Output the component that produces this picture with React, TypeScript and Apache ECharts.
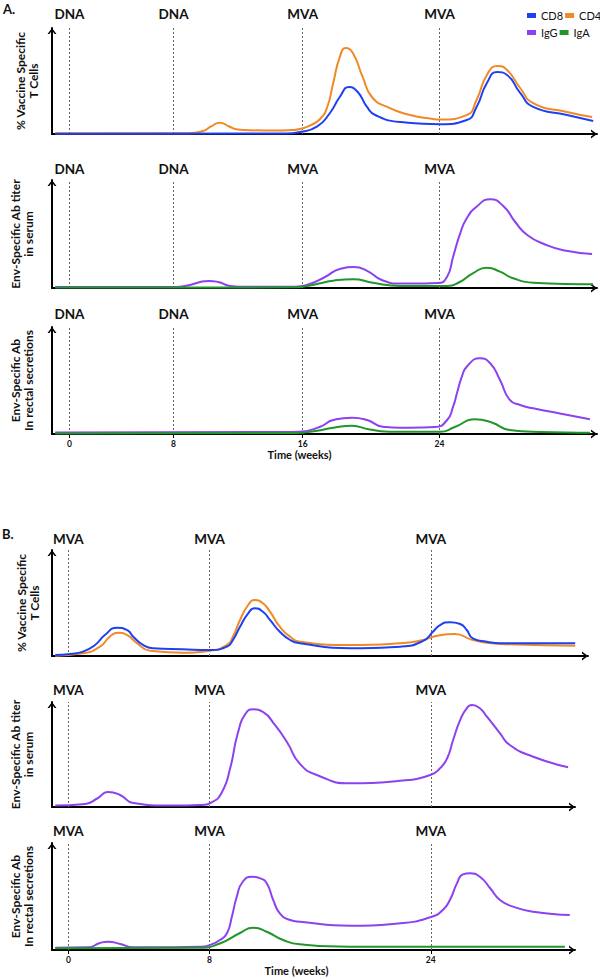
import React, { useEffect, useRef } from "react";
import * as echarts from "echarts";

// Time axes are schematic (not linear in weeks): x values are positions along the
// timeline in "timeline units" (0 = vertical axis), weeks are given as tick labels.
const A_DOSE_POS = [3.2, 22.3, 46.0, 71.1];
const A_DOSE_NAMES = ["DNA", "DNA", "MVA", "MVA"];
const A_WEEK_LABELS = ["0", "8", "16", "24"];
const B_DOSE_POS = [3.0, 28.9, 69.5];
const B_DOSE_NAMES = ["MVA", "MVA", "MVA"];
const B_WEEK_LABELS = ["0", "8", "24"];

const SERIES_NAMES = ["CD8", "CD4", "IgG", "IgA"];

const Y_TCELL = "% Vaccine Specific\nT Cells";
const Y_SERUM = "Env-Specific Ab titer\nin serum";
const Y_RECTAL = "Env-Specific Ab\nIn rectal secretions";
const X_NAME = "Time (weeks)";

// ---- Panel A (DNA/DNA/MVA/MVA) ----
const A_TCELL_CD8: number[][] = [
  [0.6, 0.3], [43.0, 0.5], [45.5, 1.9], [48.6, 6.9], [51.0, 19.8], [52.8, 34.9], [54.5, 44.3],
  [56.1, 39.6], [57.8, 25.5], [59.3, 17.9], [63.9, 11.3], [71.2, 9.2], [76.1, 13.2], [77.9, 25.5],
  [79.8, 48.1], [81.7, 58.5], [83.5, 55.7], [85.9, 38.7], [88.3, 25.5], [94.5, 17.9], [99.3, 12.3],
];
const A_TCELL_CD4: number[][] = [
  [0.6, 0.6], [25.0, 0.6], [27.7, 2.8], [29.2, 7.1], [30.8, 10.7], [32.5, 7.1], [34.1, 4.2],
  [39.4, 3.3], [44.2, 3.8], [45.5, 4.7], [47.3, 8.0], [49.2, 14.2], [50.5, 25.5], [51.6, 48.1],
  [52.8, 72.6], [53.9, 81.1], [55.2, 76.4], [57.0, 53.8], [58.7, 34.9], [61.5, 25.5], [65.7, 17.9],
  [69.9, 14.2], [71.2, 13.6], [76.1, 17.9], [77.9, 32.1], [79.8, 55.7], [81.7, 64.2], [83.5, 60.4],
  [85.9, 43.4], [88.3, 29.2], [94.5, 20.8], [99.1, 16.0],
];
const A_SERUM_IGG: number[][] = [
  [0.6, 0.9], [22.6, 0.9], [25.3, 2.8], [27.2, 5.6], [28.8, 6.5], [30.5, 5.6], [32.3, 2.3],
  [34.5, 1.1], [44.6, 1.1], [47.3, 3.7], [50.1, 10.2], [52.8, 17.6], [55.4, 19.4], [57.9, 15.7],
  [60.5, 7.4], [63.9, 4.2], [70.8, 4.6], [72.5, 10.5], [73.6, 29.0], [74.9, 50.6], [76.1, 64.5],
  [77.9, 75.3], [80.4, 82.2], [82.8, 75.9], [85.0, 61.1], [87.2, 49.1], [90.5, 40.3], [94.1, 34.7],
  [99.1, 31.5],
];
const A_SERUM_IGA: number[][] = [
  [0.6, 0.4], [44.0, 0.6], [46.5, 1.6], [49.2, 4.4], [51.6, 6.8], [55.2, 8.1], [58.9, 4.9],
  [61.5, 2.8], [63.9, 1.9], [72.5, 1.9], [74.9, 5.8], [77.2, 13.6], [79.8, 18.8], [82.2, 15.1],
  [84.6, 9.0], [88.3, 4.9], [99.3, 3.4],
];
const A_RECTAL_IGG: number[][] = [
  [0.6, 1.4], [43.7, 1.9], [45.5, 2.1], [49.2, 6.8], [51.6, 13.1], [55.0, 15.2], [57.8, 13.1],
  [60.7, 6.8], [63.9, 5.9], [70.3, 6.5], [72.5, 13.1], [73.6, 25.5], [74.3, 38.0], [75.2, 53.6],
  [76.1, 62.9], [78.5, 70.7], [80.4, 66.1], [82.2, 50.5], [84.0, 31.8], [85.9, 27.1], [88.3, 24.0],
  [93.2, 19.2], [98.7, 13.7],
];
const A_RECTAL_IGA: number[][] = [
  [0.6, 0.5], [44.6, 0.9], [48.3, 2.8], [51.9, 6.1], [55.0, 7.8], [58.3, 4.2], [62.9, 2.1],
  [71.2, 2.1], [73.9, 6.5], [77.6, 13.7], [80.7, 10.7], [84.0, 3.7], [89.5, 1.9], [98.7, 1.2],
];

// ---- Panel B (MVA/MVA/MVA) ----
const B_TCELL_CD8: number[][] = [
  [0.6, 0.9], [3.3, 1.9], [5.7, 4.1], [7.9, 10.4], [9.7, 19.8], [11.9, 26.7], [13.8, 24.5],
  [14.9, 18.2], [16.7, 10.4], [18.5, 7.3], [24.0, 6.3], [29.0, 5.7], [32.1, 8.8], [33.2, 15.1],
  [34.5, 27.6], [36.0, 40.3], [37.2, 45.0], [38.7, 41.8], [40.0, 34.0], [41.8, 22.9], [43.7, 15.1],
  [45.5, 12.0], [54.7, 7.3], [63.9, 8.8], [68.1, 14.2], [69.9, 22.9], [71.2, 29.2], [73.0, 31.8],
  [74.9, 30.2], [76.1, 24.5], [77.2, 16.7], [79.8, 13.5], [82.2, 12.0], [96.0, 12.0],
];
const B_TCELL_CD4: number[][] = [
  [0.6, 0.3], [5.7, 2.5], [8.8, 8.8], [10.6, 18.2], [12.1, 22.0], [13.8, 19.8], [15.6, 12.0],
  [18.0, 5.0], [24.0, 3.1], [29.0, 5.0], [32.1, 10.4], [33.2, 18.2], [34.5, 34.0], [36.0, 48.1],
  [37.2, 52.8], [38.7, 49.7], [40.0, 41.8], [41.8, 27.6], [43.7, 18.2], [45.5, 13.5], [54.7, 10.4],
  [63.9, 12.0], [68.1, 15.1], [69.9, 18.2], [73.9, 20.8], [77.2, 15.1], [82.2, 11.3], [96.0, 9.7],
];
const B_SERUM_IGG: number[][] = [
  [0.6, 1.4], [6.1, 2.9], [8.3, 8.1], [10.3, 14.3], [12.5, 11.4], [14.9, 3.8], [20.7, 1.4],
  [27.2, 1.9], [29.4, 4.8], [31.2, 14.3], [32.7, 37.1], [34.1, 70.5], [35.6, 89.5], [36.9, 93.0],
  [38.7, 90.5], [40.9, 78.1], [43.1, 61.9], [45.5, 41.0], [48.6, 30.5], [54.7, 22.6], [63.9, 25.0],
  [69.4, 30.5], [71.2, 36.9], [72.5, 46.4], [73.6, 63.8], [74.9, 82.9], [76.1, 94.0], [77.1, 97.1],
  [78.5, 94.0], [79.8, 86.0], [82.2, 70.2], [84.0, 59.0], [88.3, 47.9], [94.7, 37.8],
];
const B_RECTAL_IGG: number[][] = [
  [0.6, 2.1], [6.6, 2.5], [8.8, 6.5], [10.3, 7.8], [12.5, 5.6], [14.9, 2.5], [27.2, 3.1],
  [29.0, 4.7], [30.8, 9.3], [32.1, 15.6], [33.0, 31.1], [33.9, 49.8], [35.0, 63.8], [36.7, 68.5],
  [38.2, 67.0], [39.4, 62.3], [40.6, 46.7], [41.8, 34.3], [43.7, 28.0], [45.5, 26.4], [54.7, 22.7],
  [63.9, 25.0], [69.7, 31.1], [71.7, 37.4], [73.0, 46.7], [74.3, 62.3], [75.4, 70.7], [76.7, 71.7],
  [78.5, 68.5], [80.4, 57.7], [82.2, 46.7], [84.6, 40.5], [88.3, 35.8], [95.0, 32.7],
];
const B_RECTAL_IGA: number[][] = [
  [0.6, 1.6], [27.2, 2.1], [30.8, 6.1], [34.5, 15.9], [36.9, 20.8], [39.4, 17.1], [42.4, 9.3],
  [45.5, 5.3], [54.7, 3.1], [94.1, 3.1],
];

// ---- styling ----
const COLORS: Record<string, string> = {
  CD8: "#1f40f2",
  CD4: "#f08a26",
  IgG: "#8c42ee",
  IgA: "#22962b",
};
const FONT = "Lato, 'Open Sans', sans-serif";
const ARROW = "path://M0,6 L4.5,0 L9,6 L7.1,6 L4.5,2.5 L1.9,6 Z";

type Panel = {
  grid: { left: number; top: number; width: number; height: number };
  xMax: number;
  dose: number[];
  doseNames: string[];
  weeks: string[] | null;
  yName: string;
  yGap: number;
  labelDist: number;
  xNameGap?: number;
  xNamePad?: number;
  series: [string, number[][]][];
};

const PANELS: Panel[] = [
  {
    grid: { left: 52, top: 28, width: 545, height: 106 }, xMax: 100,
    dose: A_DOSE_POS, doseNames: A_DOSE_NAMES, weeks: null,
    yName: Y_TCELL, yGap: 12, labelDist: 7,
    series: [["CD4", A_TCELL_CD4], ["CD8", A_TCELL_CD8]],
  },
  {
    grid: { left: 52, top: 180, width: 545, height: 108 }, xMax: 100,
    dose: A_DOSE_POS, doseNames: A_DOSE_NAMES, weeks: null,
    yName: Y_SERUM, yGap: 17, labelDist: 4,
    series: [["IgG", A_SERUM_IGG], ["IgA", A_SERUM_IGA]],
  },
  {
    grid: { left: 52, top: 327, width: 545, height: 107 }, xMax: 100,
    dose: A_DOSE_POS, doseNames: A_DOSE_NAMES, weeks: A_WEEK_LABELS,
    yName: Y_RECTAL, yGap: 17, labelDist: 6, xNameGap: 11, xNamePad: 50,
    series: [["IgG", A_RECTAL_IGG], ["IgA", A_RECTAL_IGA]],
  },
  {
    grid: { left: 52, top: 550, width: 536, height: 106 }, xMax: 98.35,
    dose: B_DOSE_POS, doseNames: B_DOSE_NAMES, weeks: null,
    yName: Y_TCELL, yGap: 11, labelDist: 4.5,
    series: [["CD4", B_TCELL_CD4], ["CD8", B_TCELL_CD8]],
  },
  {
    grid: { left: 52, top: 702, width: 523, height: 105 }, xMax: 95.96,
    dose: B_DOSE_POS, doseNames: B_DOSE_NAMES, weeks: null,
    yName: Y_SERUM, yGap: 17, labelDist: 5.5,
    series: [["IgG", B_SERUM_IGG]],
  },
  {
    grid: { left: 52, top: 843, width: 523, height: 107 }, xMax: 95.96,
    dose: B_DOSE_POS, doseNames: B_DOSE_NAMES, weeks: B_WEEK_LABELS,
    yName: Y_RECTAL, yGap: 17, labelDist: 5, xNameGap: 14, xNamePad: 34,
    series: [["IgG", B_RECTAL_IGG], ["IgA", B_RECTAL_IGA]],
  },
];

function axisLine() {
  return {
    show: true,
    onZero: false,
    symbol: ["none", ARROW],
    symbolSize: [9, 6],
    symbolOffset: [0, -3],
    lineStyle: { color: "#000", width: 2 },
  };
}

function buildOption() {
  const grid: any[] = [];
  const xAxis: any[] = [];
  const yAxis: any[] = [];
  const series: any[] = [];

  PANELS.forEach((p, i) => {
    grid.push({ ...p.grid, containLabel: false, outerBoundsMode: "none" });
    const weeks = p.weeks;
    xAxis.push({
      gridIndex: i,
      type: "value",
      min: 0,
      max: p.xMax,
      axisLine: axisLine(),
      splitLine: { show: false },
      axisTick: weeks
        ? { show: true, customValues: p.dose, length: 4, lineStyle: { color: "#000", width: 1 } }
        : { show: false },
      axisLabel: weeks
        ? {
            show: true,
            customValues: p.dose,
            margin: 5,
            fontSize: 8.5,
            fontWeight: "bold",
            color: "#111",
            fontFamily: FONT,
            formatter: (v: number) => {
              const k = p.dose.findIndex((d) => Math.abs(d - v) < 1e-6);
              return k >= 0 ? weeks[k] : "";
            },
          }
        : { show: false },
      name: weeks ? X_NAME : "",
      nameLocation: "middle",
      nameGap: p.xNameGap || 0,
      nameTextStyle: {
        fontFamily: FONT,
        fontWeight: "bold",
        fontSize: 11,
        color: "#111",
        padding: [0, p.xNamePad || 0, 0, 0],
      },
    });
    yAxis.push({
      gridIndex: i,
      type: "value",
      min: 0,
      max: 100,
      axisLine: axisLine(),
      axisTick: { show: false },
      axisLabel: { show: false },
      splitLine: { show: false },
      name: p.yName,
      nameLocation: "middle",
      nameRotate: 90,
      nameGap: p.yGap,
      nameTextStyle: {
        fontFamily: FONT,
        fontWeight: "bold",
        fontSize: 12,
        lineHeight: 13,
        color: "#111",
        align: "center",
      },
    });

    p.series.forEach(([name, data], j) => {
      const s: any = {
        type: "line",
        name,
        xAxisIndex: i,
        yAxisIndex: i,
        data,
        symbol: "none",
        showSymbol: false,
        smooth: 0.55,
        lineStyle: { color: COLORS[name], width: 2 },
        itemStyle: { color: COLORS[name] },
        emphasis: { disabled: true },
        z: 3,
      };
      if (j === 0) {
        s.markLine = {
          silent: true,
          symbol: ["none", "none"],
          animation: false,
          z: 1,
          lineStyle: { color: "#666", width: 1, type: [2, 2] },
          emphasis: { disabled: true },
          label: {
            show: true,
            position: "end",
            distance: p.labelDist,
            formatter: "{b}",
            color: "#111",
            fontFamily: FONT,
            fontWeight: "bold",
            fontSize: 13.5,
          },
          data: p.dose.map((x, k) => [
            { coord: [x, 0], name: p.doseNames[k] },
            { coord: [x, 100] },
          ]),
        };
      }
      series.push(s);
    });
  });

  return {
    animation: false,
    backgroundColor: "#ffffff",
    textStyle: { fontFamily: FONT },
    legend: {
      data: SERIES_NAMES,
      left: 527,
      top: 8,
      width: 80,
      padding: 0,
      orient: "horizontal",
      icon: "rect",
      itemWidth: 9,
      itemHeight: 5,
      itemGap: 2,
      selectedMode: false,
      textStyle: { fontFamily: FONT, fontSize: 11, color: "#111", lineHeight: 15 },
    },
    graphic: [
      { type: "text", left: 3, top: 2, style: { text: "A.", font: `bold 13px ${FONT}`, fill: "#111" } },
      { type: "text", left: 2, top: 527, style: { text: "B.", font: `bold 13px ${FONT}`, fill: "#111" } },
    ],
    grid,
    xAxis,
    yAxis,
    series,
  };
}

export default function App() {
  const ref = useRef<HTMLDivElement>(null);
  useEffect(() => {
    if (!ref.current) return;
    const chart = echarts.init(ref.current, undefined, { renderer: "svg" });
    chart.setOption(buildOption() as any);
    return () => chart.dispose();
  }, []);
  return (
    <div
      ref={ref}
      style={{ position: "fixed", left: 0, top: 0, width: 600, height: 979, background: "#fff" }}
    />
  );
}
